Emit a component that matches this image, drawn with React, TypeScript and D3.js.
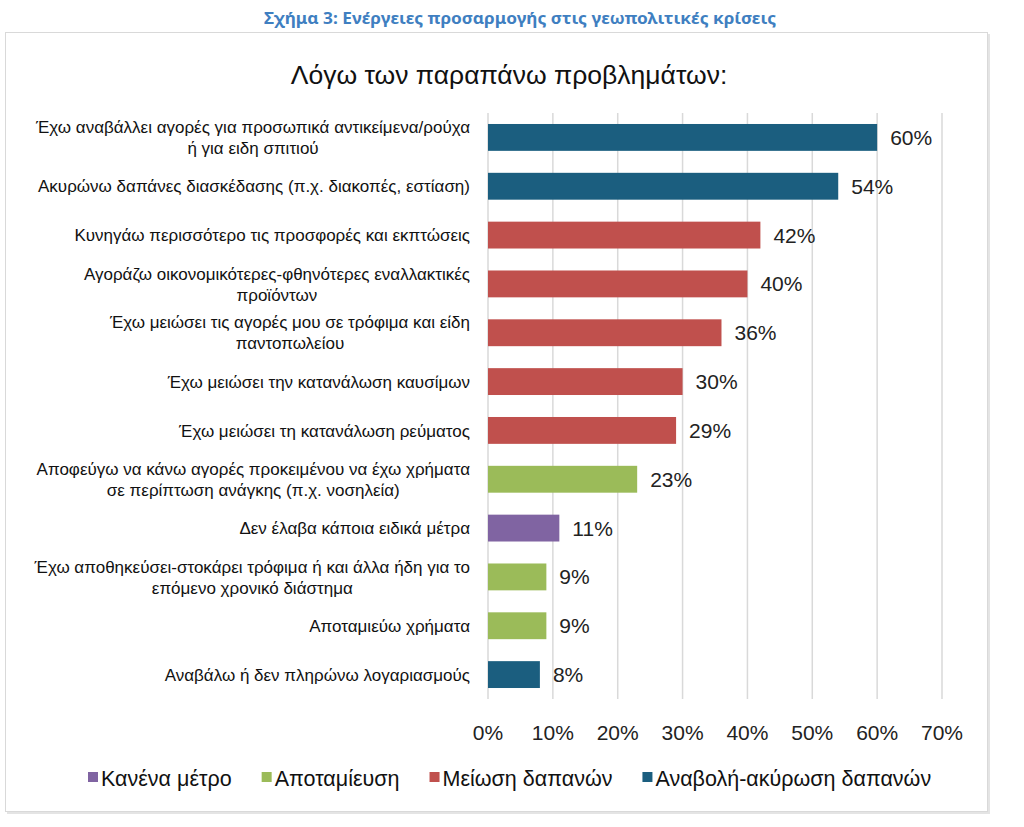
import { useEffect, useRef } from "react";
import * as d3 from "d3";

const CATEGORIES: string[][] = [
  ["Έχω αναβάλλει αγορές για προσωπικά αντικείμενα/ρούχα", "ή για ειδη σπιτιού"],
  ["Ακυρώνω δαπάνες διασκέδασης (π.χ. διακοπές, εστίαση)"],
  ["Κυνηγάω περισσότερο τις προσφορές και εκπτώσεις"],
  ["Αγοράζω οικονομικότερες-φθηνότερες εναλλακτικές", "προϊόντων"],
  ["Έχω μειώσει τις αγορές μου σε τρόφιμα και είδη", "παντοπωλείου"],
  ["Έχω μειώσει την κατανάλωση καυσίμων"],
  ["Έχω μειώσει τη κατανάλωση ρεύματος"],
  ["Αποφεύγω να κάνω αγορές προκειμένου να έχω χρήματα", "σε περίπτωση ανάγκης (π.χ. νοσηλεία)"],
  ["Δεν έλαβα κάποια ειδικά μέτρα"],
  ["Έχω αποθηκεύσει-στοκάρει τρόφιμα ή και άλλα ήδη για το", "επόμενο χρονικό διάστημα"],
  ["Αποταμιεύω χρήματα"],
  ["Αναβάλω ή δεν πληρώνω λογαριασμούς"],
];
const VALUES = [60, 54, 42, 40, 36, 30, 29, 23, 11, 9, 9, 8];
const GROUPS = [3, 3, 2, 2, 2, 2, 2, 1, 0, 1, 1, 3];

const LEGEND = ["Κανένα μέτρο", "Αποταμίευση", "Μείωση δαπανών", "Αναβολή-ακύρωση δαπανών"];
const COLORS = ["#8064a2", "#9bbb59", "#c0504d", "#1b5e7f"];
const TICKS = [0, 10, 20, 30, 40, 50, 60, 70];

const FONT = "'Liberation Sans', Arial, sans-serif";

export default function App() {
  const ref = useRef<SVGSVGElement>(null);

  useEffect(() => {
    if (!ref.current) return;
    const W = 1024, H = 827;
    const svg = d3.select(ref.current).attr("width", W).attr("height", H);
    svg.selectAll("*").remove();

    svg.append("text").attr("x", 520).attr("y", 24).attr("text-anchor", "middle")
      .attr("font-family", "'Noto Sans', sans-serif").attr("font-weight", "700").attr("font-size", 16.5)
      .attr("fill", "#3f7fc1").attr("textLength", 512).attr("lengthAdjust", "spacingAndGlyphs")
      .text("Σχήμα 3: Ενέργειες προσαρμογής στις γεωπολιτικές κρίσεις");

    // chart frame with a light shadow
    svg.append("rect").attr("x", 7).attr("y", 34).attr("width", 983).attr("height", 780).attr("fill", "#e4e4e4");
    svg.append("rect").attr("x", 5.5).attr("y", 32.5).attr("width", 982).attr("height", 779)
      .attr("fill", "white").attr("stroke", "#d9d9d9");

    svg.append("text").attr("x", 509).attr("y", 84).attr("text-anchor", "middle")
      .attr("font-family", FONT).attr("font-size", 26.5).attr("fill", "#111")
      .text("Λόγω των παραπάνω προβλημάτων:");

    const x = d3.scaleLinear().domain([0, 70]).range([488, 942]);
    const y = d3.scaleBand<number>().domain(d3.range(VALUES.length)).range([113, 699]).paddingInner(0.45).paddingOuter(0.225);

    TICKS.forEach(t => {
      svg.append("line").attr("x1", x(t)).attr("x2", x(t)).attr("y1", 113).attr("y2", 699)
        .attr("stroke", "#d9d9d9").attr("stroke-width", 1.5);
      svg.append("text").attr("x", x(t)).attr("y", 740).attr("text-anchor", "middle")
        .attr("font-family", FONT).attr("font-size", 21).attr("fill", "#222").text(`${t}%`);
    });

    VALUES.forEach((v, i) => {
      const by = y(i)!, bh = y.bandwidth();
      svg.append("rect").attr("x", x(0)).attr("y", by).attr("width", x(v) - x(0)).attr("height", bh)
        .attr("fill", COLORS[GROUPS[i]]);
      svg.append("text").attr("x", x(v) + 13).attr("y", by + bh / 2).attr("dy", "0.36em")
        .attr("font-family", FONT).attr("font-size", 21).attr("fill", "#222").text(`${v}%`);

      const lines = CATEGORIES[i];
      const lh = 21;
      const g = svg.append("g");
      const texts = lines.map((l, k) =>
        g.append("text").attr("y", by + bh / 2 + (k - (lines.length - 1) / 2) * lh).attr("dy", "0.36em")
          .attr("text-anchor", "middle").attr("font-family", FONT).attr("font-size", 17).attr("fill", "#111").text(l));
      const maxW = d3.max(texts, t => (t.node() as SVGTextElement).getComputedTextLength()) ?? 0;
      texts.forEach(t => t.attr("x", 470 - maxW / 2));
    });

    // legend
    const lg = svg.append("g");
    let lx = 88;
    LEGEND.forEach((name, i) => {
      lg.append("rect").attr("x", lx).attr("y", 772).attr("width", 10).attr("height", 10).attr("fill", COLORS[i]);
      const t = lg.append("text").attr("x", lx + 13).attr("y", 778).attr("dy", "0.36em")
        .attr("font-family", FONT).attr("font-size", 21.5).attr("fill", "#111").text(name);
      lx += 13 + (t.node() as SVGTextElement).getComputedTextLength() + 30;
    });
  }, []);

  return <svg ref={ref} style={{ position: "absolute", left: 0, top: 0, background: "white" }} />;
}
